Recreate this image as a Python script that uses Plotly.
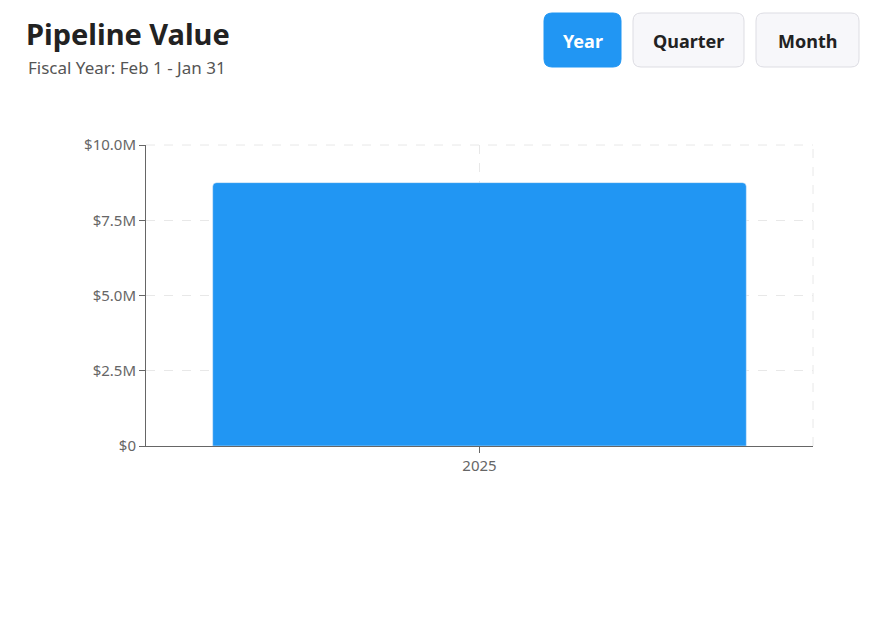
import plotly.graph_objects as go

years = ["2025"]
pipeline_value = [8750000]
y_ticks = [0, 2500000, 5000000, 7500000, 10000000]
y_tick_labels = ["$0", "$2.5M", "$5.0M", "$7.5M", "$10.0M"]
buttons = ["Year", "Quarter", "Month"]

W, H = 893, 617
OFF = 8  # page offset seen in the screenshot
L, R, T, B = 146 - OFF, 80 + OFF, 145 - OFF, 171 + OFF


def px_x(x):
    return (x - OFF - L) / (W - L - R)


def px_y(y):
    return (H - B - (y - OFF)) / (H - T - B)


def rounded_rect(x0, y0, x1, y1, r):
    a, b, c, d = px_x(x0), px_x(x1), px_y(y0), px_y(y1)
    rx = r / (W - L - R)
    ry = r / (H - T - B)
    return (f"M{a+rx},{c} L{b-rx},{c} Q{b},{c} {b},{c-ry} L{b},{d+ry} Q{b},{d} {b-rx},{d} "
            f"L{a+rx},{d} Q{a},{d} {a},{d+ry} L{a},{c-ry} Q{a},{c} {a+rx},{c} Z")


fig = go.Figure(go.Bar(
    x=years, y=pipeline_value,
    marker=dict(color="#2196F3", cornerradius=4),
    width=0.8,
))

shapes = []
annotations = [
    dict(text="<b>Pipeline Value</b>", x=px_x(24), y=px_y(33), xanchor="left", yanchor="middle",
         font=dict(size=29, color="#222", family="Noto Sans"), showarrow=False),
    dict(text="Fiscal Year: Feb 1 - Jan 31", x=px_x(26), y=px_y(67), xanchor="left", yanchor="middle",
         font=dict(size=17, color="#555", family="Noto Sans"), showarrow=False),
]
boxes = [(544, 621), (633, 744), (756, 859)]
for label, (x0, x1) in zip(buttons, boxes):
    active = label == "Year"
    shapes.append(dict(type="path", xref="paper", yref="paper",
                       path=rounded_rect(x0, 13, x1, 67, 8),
                       fillcolor="#2196F3" if active else "#f7f7fa",
                       line=dict(color="#2196F3" if active else "#dddde3", width=1)))
    annotations.append(dict(text=f"<b>{label}</b>",
                            x=px_x((x0 + x1) / 2), y=px_y(41), xanchor="center", yanchor="middle",
                            font=dict(size=18, color="white" if active else "#222", family="Noto Sans"),
                            showarrow=False))
for a in annotations:
    a.update(xref="paper", yref="paper")

fig.update_layout(
    width=W, height=H,
    margin=dict(l=L, r=R, t=T, b=B),
    plot_bgcolor="white", paper_bgcolor="white",
    font=dict(family="Noto Sans", size=15, color="#666"),
    shapes=shapes, annotations=annotations,
    showlegend=False,
)
fig.update_xaxes(showline=True, linecolor="#666", ticks="outside", ticklen=6, tickcolor="#666",
                 showgrid=True, gridcolor="#e8e8e8", griddash="dash")
fig.update_yaxes(range=[0, 10000000], tickvals=y_ticks, ticktext=y_tick_labels,
                 showline=True, linecolor="#666", ticks="outside", ticklen=6, tickcolor="#666",
                 gridcolor="#e8e8e8", griddash="dash", zeroline=False)
fig.add_shape(type="line", xref="paper", yref="paper", x0=1, x1=1, y0=0, y1=1,
              line=dict(color="#e8e8e8", dash="dash", width=1))
fig.add_shape(type="line", xref="paper", yref="paper", x0=0, x1=1, y0=1, y1=1,
              line=dict(color="#e8e8e8", dash="dash", width=1))

fig.write_html("out.html")
